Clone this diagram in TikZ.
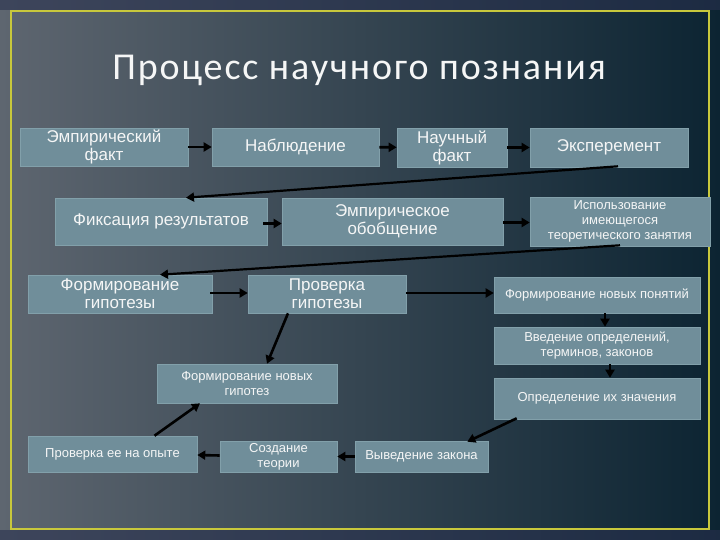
\documentclass[tikz,border=0pt]{standalone}
\usepackage{fontspec}
\setmainfont{Liberation Sans}
\newfontfamily\titlefont[LetterSpace=5]{Carlito}
\usetikzlibrary{arrows.meta,calc}
\definecolor{boxfill}{RGB}{112,142,154}
\definecolor{boxline}{RGB}{130,160,170}
\definecolor{bgleft}{RGB}{94,102,112}
\definecolor{bgmid}{RGB}{50,64,78}
\definecolor{bgright}{RGB}{12,36,50}
\definecolor{outer}{RGB}{40,48,78}
\definecolor{frameyellow}{RGB}{200,200,60}
\definecolor{txt}{RGB}{245,246,246}
\tikzset{
  box/.style={draw=boxline, line width=0.6pt, fill=boxfill, text=txt, align=center, inner sep=1pt, font=\fontsize{17}{18}\selectfont},
  smallbox/.style={box, font=\fontsize{13}{15}\selectfont},
  arr/.style={draw=black, line width=2.6pt, -{Triangle[length=8pt,width=9pt]}},
  longarr/.style={draw=black, line width=2.2pt, -{Triangle[length=8pt,width=9pt]}},
}
\begin{document}
\begin{tikzpicture}[x=1pt,y=-1pt]
\useasboundingbox (0,0) rectangle (720,540);
\fill[outer] (0,0) rectangle (720,540);
\shade[left color=bgleft, middle color=bgmid, right color=bgright] (0,0) rectangle (720,540);
\fill[outer, opacity=0.6] (0,0) rectangle (720,10);
\fill[outer, opacity=0.6] (0,530) rectangle (720,540);
\draw[frameyellow, line width=2pt] (11,11) rectangle (709,529);
\node[text=txt, font=\titlefont\fontsize{38}{42}\selectfont] (title) at (359,70) {Процесс научного познания};

\node[box, minimum width=168pt, minimum height=38pt] (emp) at (104,147) {Эмпирический\\факт};
\node[box, minimum width=167pt, minimum height=38pt] (nab) at (295.5,147) {Наблюдение};
\node[box, minimum width=110pt, minimum height=39pt] (nauch) at (452,147.5) {Научный\\факт};
\node[box, minimum width=158pt, minimum height=39pt] (exper) at (609,147.5) {Эксперемент};

\node[box, minimum width=212pt, minimum height=47pt] (fix) at (161,221.5) {Фиксация результатов};
\node[box, minimum width=221pt, minimum height=47pt] (obob) at (392.5,221.5) {Эмпирическое\\обобщение};
\node[smallbox, minimum width=180pt, minimum height=49pt] (isp) at (620,221.5) {Использование\\имеющегося\\теоретического занятия};

\node[box, minimum width=184pt, minimum height=38pt] (fgip) at (120,294) {Формирование\\гипотезы};
\node[box, minimum width=158pt, minimum height=38pt] (pgip) at (327,294) {Проверка\\гипотезы};
\node[smallbox, minimum width=206pt, minimum height=36pt] (fnp) at (597,295) {Формирование новых понятий};
\node[smallbox, minimum width=206pt, minimum height=37pt] (vved) at (597,345.5) {Введение определений,\\терминов, законов};
\node[smallbox, minimum width=206pt, minimum height=41pt] (opr) at (597,398.5) {Определение их значения};

\node[smallbox, minimum width=180pt, minimum height=39pt] (fng) at (247,383.5) {Формирование новых\\гипотез};
\node[smallbox, minimum width=169pt, minimum height=36pt] (prov) at (112.5,454) {Проверка ее на опыте};
\node[smallbox, minimum width=117pt, minimum height=31pt] (sozd) at (278.5,456.5) {Создание\\теории};
\node[smallbox, minimum width=133pt, minimum height=31pt] (vyv) at (421.5,456.5) {Выведение закона};

\draw[arr] (emp) -- (nab);
\draw[arr] (nab) -- (nauch);
\draw[arr] (nauch) -- (exper);
\draw[longarr] ($(exper.south)+(9,-1)$) -- ($(fix.north)+(25,0)$);
\draw[arr] ($(fix.east)+(-4,2)$) -- ($(obob.west)+(0,2)$);
\draw[arr] ($(obob.east)+(0,1)$) -- ($(isp.west)+(0,1)$);
\draw[longarr] ($(isp.south)+(0,-1)$) -- ($(fgip.north)+(40,0)$);
\draw[arr] ($(fgip.east)+(-2,-1)$) -- ($(pgip.west)+(0,-1)$);
\draw[arr] ($(pgip.east)+(0,-1)$) -- ($(fnp.west)+(0,-2)$);
\draw[arr] ($(fnp.south)+(8,0)$) -- ($(vved.north)+(8,0)$);
\draw[arr] ($(vved.south)+(13,0)$) -- ($(opr.north)+(13,0)$);
\draw[arr] ($(pgip.south)+(-39,0)$) -- ($(fng.north)+(20,0)$);
\draw[arr] ($(opr.south west)+(23,-1)$) -- ($(vyv.north east)+(-21,1)$);
\draw[arr] (vyv) -- (sozd);
\draw[arr] ($(sozd.west)+(0,-1)$) -- ($(prov.east)+(0,1)$);
\draw[arr] ($(prov.north)+(42,0)$) -- ($(fng.south)+(-47,0)$);
\end{tikzpicture}
\end{document}
